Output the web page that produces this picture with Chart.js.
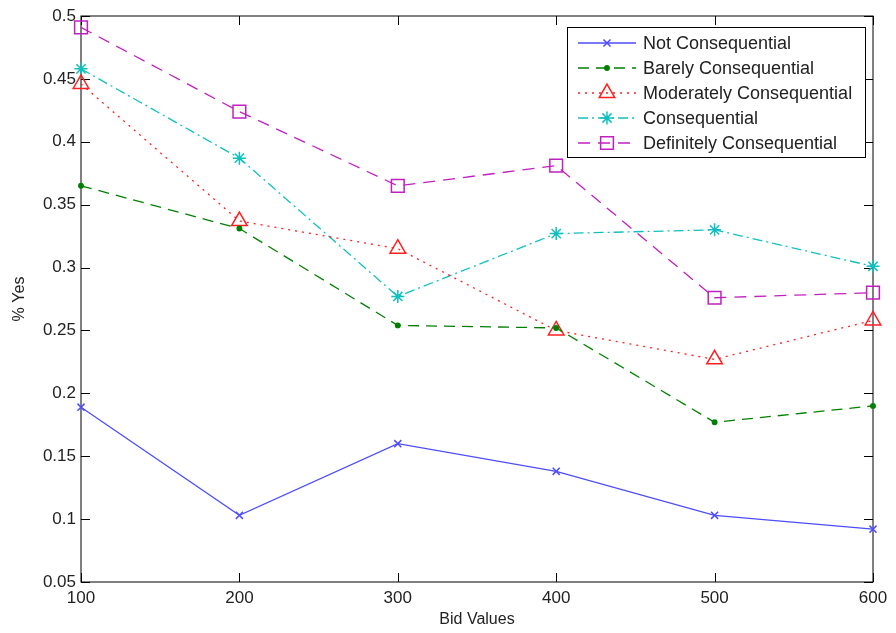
<!DOCTYPE html>
<html>
<head>
<meta charset="utf-8">
<script src="https://cdn.jsdelivr.net/npm/chart.js@4/dist/chart.umd.min.js"></script>
<style>
  html, body { margin: 0; padding: 0; background: #fff; }
  #wrap { width: 896px; height: 633px; }
</style>
</head>
<body>
<div id="wrap"><canvas id="lineChart" width="896" height="633"></canvas></div>
<script>
const bids = [100, 200, 300, 400, 500, 600];
const notConsequential = [0.189, 0.103, 0.160, 0.138, 0.103, 0.092];
const barelyConsequential = [0.365, 0.331, 0.254, 0.252, 0.177, 0.190];
const moderatelyConsequential = [0.446, 0.337, 0.315, 0.250, 0.227, 0.258];
const consequential = [0.458, 0.387, 0.277, 0.327, 0.330, 0.301];
const definitelyConsequential = [0.491, 0.424, 0.365, 0.381, 0.276, 0.280];

const FONT = 'Arial, "Liberation Sans", sans-serif';

function series(label, values, color, dash, style, radius, fill) {
    return {
        label,
        data: bids.map((b, i) => ({ x: b, y: values[i] })),
        borderColor: color,
        backgroundColor: fill ? color : 'transparent',
        borderWidth: 1.3,
        borderDash: dash,
        pointStyle: style,
        pointRadius: radius,
        pointBorderColor: color,
        pointBackgroundColor: fill ? color : 'transparent',
        pointBorderWidth: 1.5,
        tension: 0,
        fill: false,
        clip: false
    };
}

// frame with inward ticks, matlab style
const framePlugin = {
    id: 'frame',
    beforeDatasetsDraw(chart) {
        const { ctx, chartArea: a, scales } = chart;
        ctx.save();
        ctx.strokeStyle = '#000';
        ctx.lineWidth = 1;
        ctx.strokeRect(a.left, a.top, a.right - a.left, a.bottom - a.top);
        ctx.beginPath();
        scales.x.ticks.forEach(t => {
            const px = Math.round(scales.x.getPixelForValue(t.value)) + 0.5;
            ctx.moveTo(px, a.bottom); ctx.lineTo(px, a.bottom - 9);
            ctx.moveTo(px, a.top); ctx.lineTo(px, a.top + 9);
        });
        scales.y.ticks.forEach(t => {
            const py = Math.round(scales.y.getPixelForValue(t.value)) + 0.5;
            ctx.moveTo(a.left, py); ctx.lineTo(a.left + 9, py);
            ctx.moveTo(a.right, py); ctx.lineTo(a.right - 9, py);
        });
        ctx.stroke();
        ctx.restore();
    }
};

// boxed legend in the top right corner
const legendPlugin = {
    id: 'boxLegend',
    afterDraw(chart) {
        const { ctx } = chart;
        const x0 = 567, y0 = 27, w = 298, h = 130;
        ctx.save();
        ctx.fillStyle = '#fff';
        ctx.fillRect(x0, y0, w, h);
        ctx.strokeStyle = '#000';
        ctx.lineWidth = 1;
        ctx.strokeRect(x0 + 0.5, y0 + 0.5, w, h);
        chart.data.datasets.forEach((ds, i) => {
            const y = 43 + i * 25;
            ctx.strokeStyle = ds.borderColor;
            ctx.lineWidth = ds.borderWidth;
            ctx.setLineDash(ds.borderDash || []);
            ctx.beginPath();
            ctx.moveTo(578, y);
            ctx.lineTo(636, y);
            ctx.stroke();
            ctx.setLineDash([]);
            ctx.fillStyle = ds.pointBackgroundColor;
            ctx.lineWidth = ds.pointBorderWidth;
            Chart.helpers.drawPoint(ctx, { pointStyle: ds.pointStyle, radius: ds.pointRadius, rotation: 0, borderWidth: ds.pointBorderWidth }, 607, y);
            ctx.fillStyle = '#222';
            ctx.font = '18px ' + FONT;
            ctx.textBaseline = 'middle';
            ctx.textAlign = 'left';
            ctx.fillText(ds.label, 643, y + 1);
        });
        ctx.restore();
    }
};

const ctx = document.getElementById('lineChart').getContext('2d');
new Chart(ctx, {
    type: 'line',
    data: {
        datasets: [
            series('Not Consequential', notConsequential, '#4d4dff', [], 'crossRot', 5, false),
            series('Barely Consequential', barelyConsequential, '#008000', [11, 7], 'circle', 2.2, true),
            series('Moderately Consequential', moderatelyConsequential, '#ff2020', [2, 5], 'triangle', 9, false),
            series('Consequential', consequential, '#10c0c0', [10, 4, 2, 4], 'star', 6.5, false),
            series('Definitely Consequential', definitelyConsequential, '#c020c0', [12, 8], 'rect', 9, false)
        ]
    },
    options: {
        responsive: false,
        animation: false,
        layout: { padding: { left: 0, right: 23, top: 16, bottom: 0 } },
        plugins: { legend: { display: false }, tooltip: { enabled: false } },
        scales: {
            x: {
                type: 'linear',
                min: 100,
                max: 600,
                grid: { display: false, drawTicks: false },
                border: { display: false },
                ticks: { stepSize: 100, padding: 6, color: '#222', font: { family: FONT, size: 17 } },
                title: { display: true, text: 'Bid Values', color: '#222', font: { family: FONT, size: 16 }, padding: { top: 2, bottom: 4 } },
                afterFit: s => { s.height = 51; }
            },
            y: {
                min: 0.05,
                max: 0.5,
                grid: { display: false, drawTicks: false },
                border: { display: false },
                ticks: {
                    stepSize: 0.05,
                    padding: 5,
                    color: '#222',
                    font: { family: FONT, size: 17 },
                    callback: v => parseFloat(v.toFixed(2)).toString()
                },
                title: { display: true, text: '% Yes', color: '#222', font: { family: FONT, size: 16 }, padding: { top: 10, bottom: 0 } },
                afterFit: s => { s.width = 81; }
            }
        }
    },
    plugins: [framePlugin, legendPlugin]
});
</script>
</body>
</html>
